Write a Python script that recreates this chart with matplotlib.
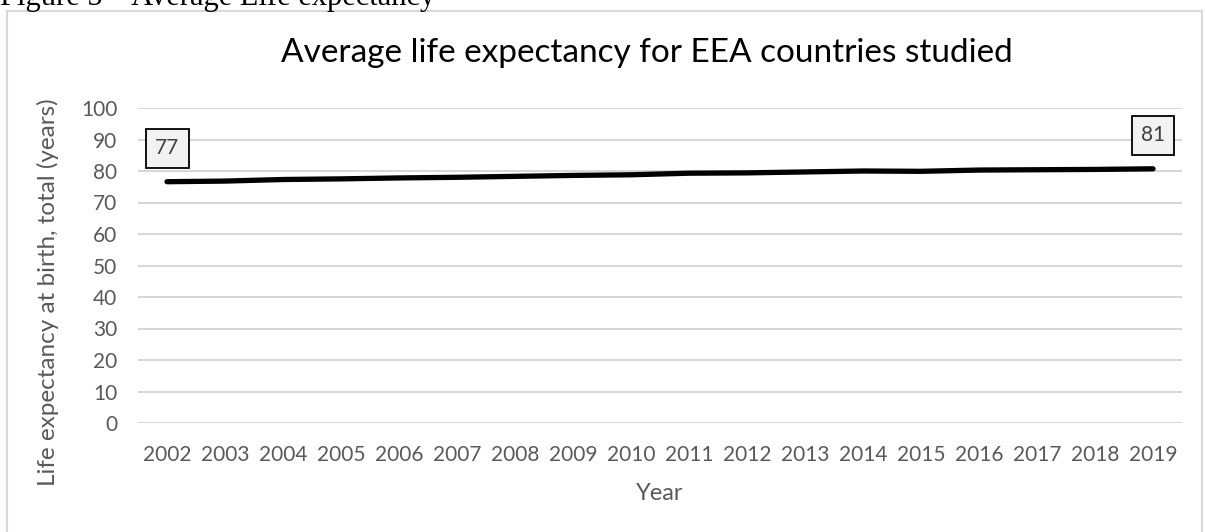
import numpy as np
import matplotlib.pyplot as plt
from matplotlib.patches import Rectangle

# data
years = ['2002', '2003', '2004', '2005', '2006', '2007', '2008', '2009', '2010',
         '2011', '2012', '2013', '2014', '2015', '2016', '2017', '2018', '2019']
life_exp = [76.6, 76.8, 77.3, 77.5, 77.8, 78.0, 78.3, 78.6, 78.8,
            79.3, 79.4, 79.7, 80.0, 79.9, 80.3, 80.4, 80.5, 80.7]
y_ticks = [0, 10, 20, 30, 40, 50, 60, 70, 80, 90, 100]

font = ['Lato', 'DejaVu Sans']
grey_text = '#595959'
W, H = 1205, 532

fig = plt.figure(figsize=(W / 100, H / 100), dpi=100)

# chart frame and the (cut off) caption above it
fig.patches.append(Rectangle((7 / W, -0.01), 1195 / W, 1 - 10.5 / H + 0.01,
                             transform=fig.transFigure, fill=False,
                             edgecolor='#d9d9d9', linewidth=1.5))
fig.text(0.0, 1 - 5 / H, 'Figure 5 \u2013 Average Life expectancy',
         family='Liberation Serif', fontsize=22, va='baseline', ha='left')

ax = fig.add_axes([138 / W, 1 - 423 / H, (1182 - 138) / W, 315 / H])
x = np.arange(len(years))
ax.plot(x, life_exp, color='black', linewidth=3.8, solid_capstyle='round', zorder=3)

ax.set_xlim(-0.5, len(years) - 0.5)
ax.set_ylim(0, 100)
ax.set_yticks(y_ticks)
ax.set_xticks(x)
ax.set_xticklabels(years)
ax.grid(axis='y', color='#d0d0d0', linewidth=1.2)
ax.set_axisbelow(True)
for s in ax.spines.values():
    s.set_visible(False)
ax.tick_params(length=0, labelsize=15, labelcolor=grey_text)
ax.tick_params(axis='y', pad=15)
ax.tick_params(axis='x', pad=16)
for lab in ax.get_xticklabels() + ax.get_yticklabels():
    lab.set_family(font)

# data labels on first and last point
for i in [0, len(years) - 1]:
    ax.annotate(f'{life_exp[i]:.0f}', (x[i], life_exp[i]), xytext=(0, 24),
                textcoords='offset points', ha='center', va='center',
                fontsize=15, color='#404040', family=font,
                bbox=dict(boxstyle='square,pad=0.45', facecolor='#f2f2f2',
                          edgecolor='black', linewidth=1.3))

# title and axis titles placed as in the reference
fig.text(647 / W, 1 - 62 / H, 'Average life expectancy for EEA countries studied',
         fontsize=24, family=font, color='black', ha='center', va='baseline')
fig.text(660 / W, 1 - 494 / H, 'Year', fontsize=17, color=grey_text,
         family=font, ha='center', va='center')
fig.text(48 / W, 1 - 292.5 / H, 'Life expectancy at birth, total (years)',
         fontsize=17.5, color=grey_text, family=font, rotation=90,
         ha='center', va='center')

fig.savefig('out.png', dpi=100)
